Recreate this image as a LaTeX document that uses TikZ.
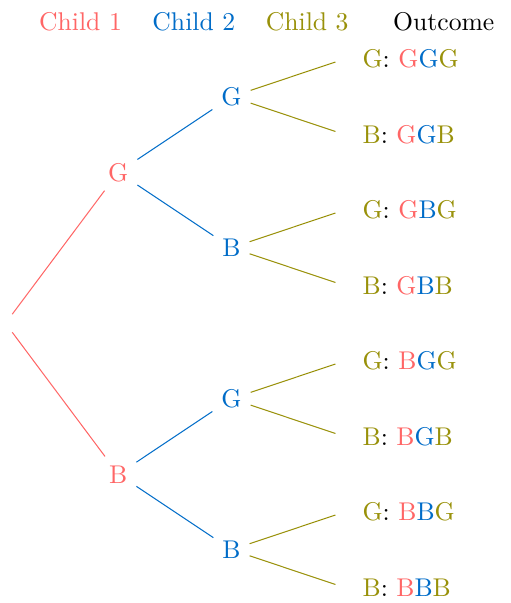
\documentclass[tikz,border=0pt]{standalone}
\definecolor{cA}{RGB}{255,102,102}
\definecolor{cB}{RGB}{0,108,200}
\definecolor{cC}{RGB}{153,145,10}
\newcommand{\outc}[4]{{\color{cC}#1}: {\color{cA}#2}{\color{cB}#3}{\color{cC}#4}}
\begin{document}
\begin{tikzpicture}[x=0.39pt,y=-0.39pt,
  emptynode/.style={inner sep=3.33pt},
  lvA/.style={text=cA},
  lvB/.style={text=cB},
  hdr/.style={anchor=base},
  outtext/.style={anchor=west},
  edgeA/.style={draw=cA,line width=0.4pt},
  edgeB/.style={draw=cB,line width=0.4pt},
  edgeC/.style={draw=cC,line width=0.4pt}]
\useasboundingbox (0,0) rectangle (510,603);
% headers
\node[hdr,text=cA] (h1) at (80.5,31) {Child 1};
\node[hdr,text=cB] (h2) at (193.8,31) {Child 2};
\node[hdr,text=cC] (h3) at (307.2,31) {Child 3};
\node[hdr] (h4) at (443.8,31) {Outcome};
% root
\node[emptynode] (r) at (5.5,323.25) {};
% level 1
\node[lvA] (g) at (118.3,172.25) {G};
\node[lvA] (b) at (118.3,474.25) {B};
% level 2
\node[lvB] (gg) at (231.5,96.75) {G};
\node[lvB] (gb) at (231.5,247.75) {B};
\node[lvB] (bg) at (231.5,398.75) {G};
\node[lvB] (bb) at (231.5,549.75) {B};
% level 3 (empty)
\node[emptynode] (l1) at (344.5,59) {};
\node[emptynode] (l2) at (344.5,134.5) {};
\node[emptynode] (l3) at (344.5,210) {};
\node[emptynode] (l4) at (344.5,285.5) {};
\node[emptynode] (l5) at (344.5,361) {};
\node[emptynode] (l6) at (344.5,436.5) {};
\node[emptynode] (l7) at (344.5,512) {};
\node[emptynode] (l8) at (344.5,587.5) {};
% outcomes
\node[outtext] (t1) at (l1.east) {\outc{G}{G}{G}{G}};
\node[outtext] (t2) at (l2.east) {\outc{B}{G}{G}{B}};
\node[outtext] (t3) at (l3.east) {\outc{G}{G}{B}{G}};
\node[outtext] (t4) at (l4.east) {\outc{B}{G}{B}{B}};
\node[outtext] (t5) at (l5.east) {\outc{G}{B}{G}{G}};
\node[outtext] (t6) at (l6.east) {\outc{B}{B}{G}{B}};
\node[outtext] (t7) at (l7.east) {\outc{G}{B}{B}{G}};
\node[outtext] (t8) at (l8.east) {\outc{B}{B}{B}{B}};
% edges
\draw[edgeA] (r) -- (g);
\draw[edgeA] (r) -- (b);
\draw[edgeB] (g) -- (gg);
\draw[edgeB] (g) -- (gb);
\draw[edgeB] (b) -- (bg);
\draw[edgeB] (b) -- (bb);
\draw[edgeC] (gg) -- (l1);
\draw[edgeC] (gg) -- (l2);
\draw[edgeC] (gb) -- (l3);
\draw[edgeC] (gb) -- (l4);
\draw[edgeC] (bg) -- (l5);
\draw[edgeC] (bg) -- (l6);
\draw[edgeC] (bb) -- (l7);
\draw[edgeC] (bb) -- (l8);
\end{tikzpicture}
\end{document}
